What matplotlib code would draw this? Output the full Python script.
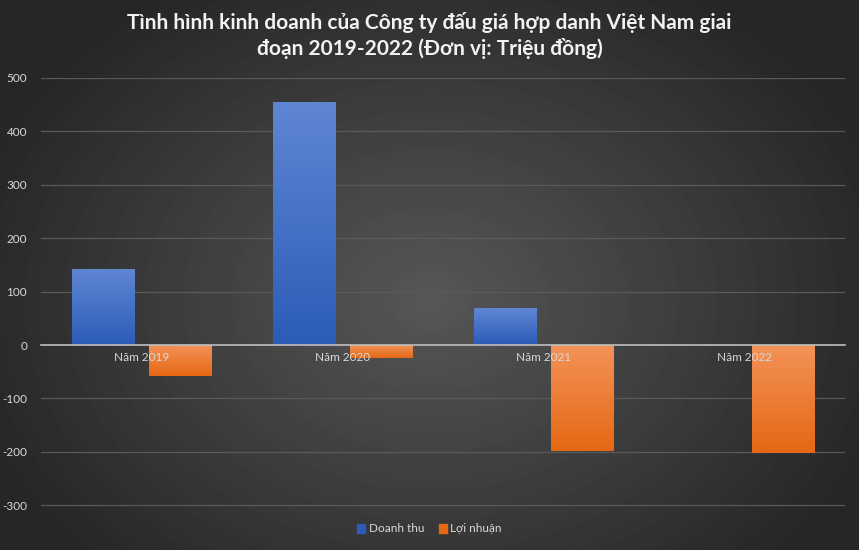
import numpy as np
import matplotlib
matplotlib.use("Agg")
from matplotlib import pyplot as plt
from matplotlib.colors import LinearSegmentedColormap

plt.rcParams['font.family'] = ['Lato', 'DejaVu Sans']
plt.rcParams['axes.unicode_minus'] = False

categories = ["Năm 2019", "Năm 2020", "Năm 2021", "Năm 2022"]
doanh_thu = [142, 455, 69, 0]
loi_nhuan = [-57, -24, -198, -202]
series_names = ["Doanh thu", "Lợi nhuận"]
title = "Tình hình kinh doanh của Công ty đấu giá hợp danh Việt Nam giai\nđoạn 2019-2022 (Đơn vị: Triệu đồng)"

blue_top, blue_bot = "#5f86d3", "#2c5cb8"
orange_top, orange_bot = "#f39257", "#e56814"
text_col = "#d9d9d9"
grid_col = "#5a5a5a"

fig = plt.figure(figsize=(8.59, 5.5), dpi=100)

# radial background
bg = fig.add_axes([0, 0, 1, 1], zorder=-10)
yy, xx = np.mgrid[0:550, 0:859]
r = np.sqrt(((xx - 430) / 430) ** 2 + ((yy - 300) / 330) ** 2)
shade = np.clip(0.34 - 0.17 * r, 0.15, 0.34)
bg.imshow(shade, cmap="gray", vmin=0, vmax=1, aspect="auto", extent=[0, 1, 0, 1])
bg.axis("off")

ax = fig.add_axes([41 / 859, (550 - 516) / 550, (845 - 41) / 859, (516 - 78) / 550])
ax.patch.set_alpha(0)

x = np.arange(len(categories))
w = 0.31
off = 0.19


def grad_bar(xc, h, top, bot):
    bars = ax.bar(xc, h, w, color="none", zorder=1)
    cmap = LinearSegmentedColormap.from_list("g", [bot, top])
    for b in bars:
        if b.get_height() == 0:
            continue
        x0, y0 = b.get_x(), min(b.get_y(), b.get_y() + b.get_height())
        y1 = max(b.get_y(), b.get_y() + b.get_height())
        grad = np.linspace(0, 1, 100).reshape(-1, 1)
        im = ax.imshow(grad, cmap=cmap, origin="lower", aspect="auto",
                       extent=[x0, x0 + b.get_width(), y0, y1], zorder=1)
        im.set_clip_path(b)
    return bars


grad_bar(x - off, doanh_thu, blue_top, blue_bot)
grad_bar(x + off, loi_nhuan, orange_top, orange_bot)

ax.set_xlim(-0.5, len(categories) - 0.5)
ax.set_ylim(-320, 500)
yticks = range(-300, 501, 100)
ax.set_yticks(yticks)
for t in yticks:
    if t != 0:
        ax.axhline(t, color=grid_col, linewidth=0.9, zorder=0)
for s in ["top", "right", "left"]:
    ax.spines[s].set_visible(False)
ax.spines["bottom"].set_position(("data", 0))
ax.spines["bottom"].set_color("#bfbfbf")
ax.spines["bottom"].set_linewidth(1.2)
ax.set_xticks(x)
ax.set_xticklabels(categories)
ax.tick_params(axis="both", length=0, colors=text_col, labelsize=8.5)
ax.tick_params(axis="x", pad=5)
ax.tick_params(axis="y", pad=10)

fig.text(0.5, 0.978, title, ha="center", va="top", color="#f2f2f2",
         fontsize=15, fontweight="bold", linespacing=1.3)

handles = [plt.Rectangle((0, 0), 1, 1, color=blue_bot), plt.Rectangle((0, 0), 1, 1, color=orange_bot)]
fig.legend(handles, series_names, loc="center", bbox_to_anchor=(0.5, 1 - 529 / 550), ncol=2,
           frameon=False, fontsize=8.5, labelcolor=text_col, handlelength=0.7, handleheight=0.7,
           handletextpad=0.3, columnspacing=1.2)

fig.savefig("out.png", dpi=100)
